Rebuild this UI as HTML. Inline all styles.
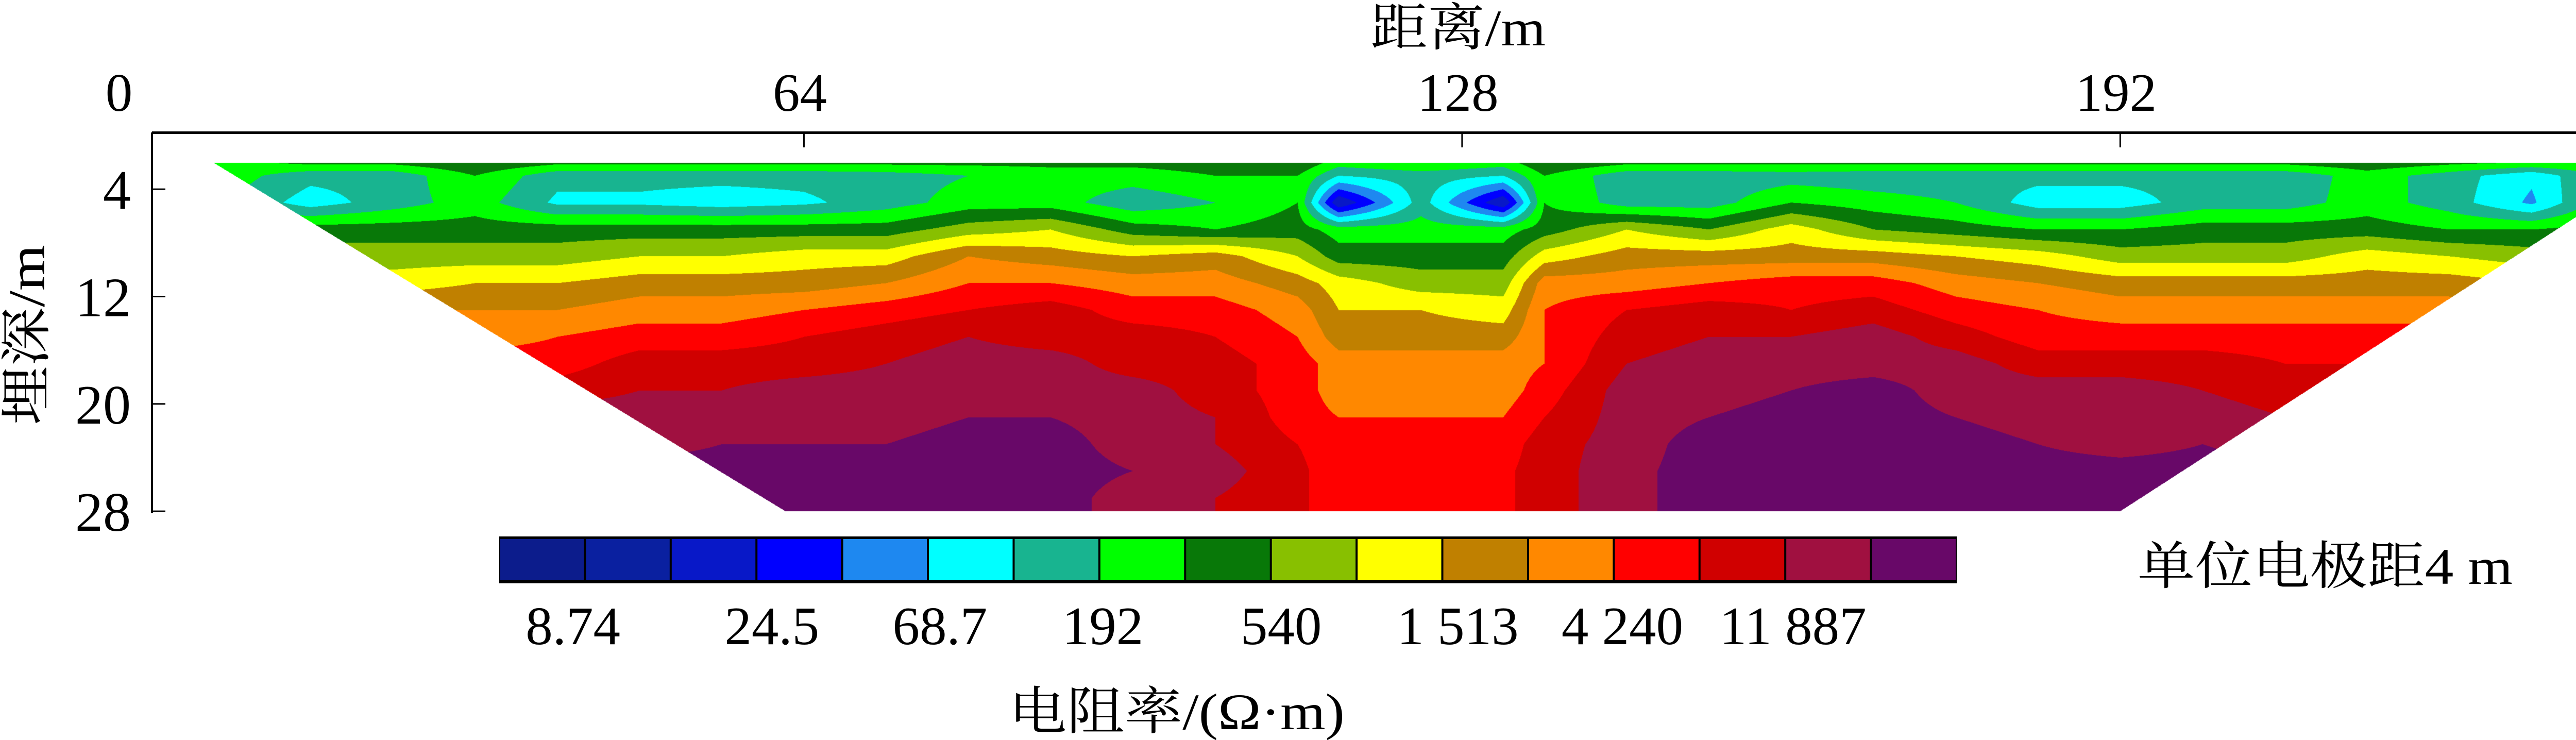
<!DOCTYPE html>
<html><head><meta charset="utf-8">
<style>
html,body{margin:0;padding:0;background:#fff;overflow:hidden;width:5287px;height:1436px;}
#wrap{position:relative;width:5287px;height:1436px;overflow:hidden;background:#fff;}
#heat{position:absolute;left:0;top:0;display:block;}
#ov{position:absolute;left:0;top:0;display:block;overflow:hidden;}
text{font-family:"Liberation Serif","Noto Serif CJK SC",serif;fill:#000;}
</style></head>
<body>
<div id="wrap">
<canvas id="heat" width="5287" height="1436"></canvas>
<svg id="ov" width="5287" height="1436" viewBox="0 0 5287 1436">
  <text x="2830" y="88" font-size="100" text-anchor="middle" textLength="340" lengthAdjust="spacingAndGlyphs">距离/m</text>
  <g id="xticks"></g>
  <g id="yticks"></g>
  <text transform="translate(52,650) rotate(-90)" font-size="100" text-anchor="middle" dominant-baseline="central" textLength="350" lengthAdjust="spacingAndGlyphs">埋深/m</text>
  <g id="cbar"></g>
  <text x="4149" y="1133" font-size="100" textLength="728" lengthAdjust="spacingAndGlyphs">单位电极距4 m</text>
  <text x="2284" y="1415" font-size="100" text-anchor="middle" textLength="652" lengthAdjust="spacingAndGlyphs">电阻率/(Ω·m)</text>
</svg>
</div>
<script>
// ---- data ----
const distances = [8,16,24,32,40,48,56,64,72,80,88,96,104,112,116,124,132,136,144,152,160,168,176,184,192,200,208,216,224,232,240,248];
const depths = [2,3,5,7,9,11,13,15,17,19,21,23,25,27];
const levelD2  = [7.2,7.8,7.8,8.5,7.8,7.8,7.8,7.8,7.8,7.8,7.8,7.8,8,8.5,7,7.5,7,8.5,7.8,7.8,7.8,7.8,7.8,7.8,7.8,7.8,7.8,8.3,7.8,7.5,7.5,9];
const levelD3  = [7,5.8,5.8,7.5,5.8,5.8,5.8,5.8,6,6.5,7,7,7.5,7.5,5.5,6,5.5,7.5,5.8,5.8,6,5.8,5.8,5.8,5.8,5.8,5.8,7,6,4.7,7,9];
const levelD5  = [6.5,5,6,7,5.3,5.3,5,5.3,6,7,7,5.8,6.5,7.5,1.5,6,1.5,7.5,6,6,7.5,7,6.5,5,5,6,6,7,6,4.3,7.5,9];
const levelD7  = [7.5,8,8,8,8,8,8,8,8,9,9.5,8,7.5,8,7,7,7,8,9.5,8.5,10,8.5,8,7.5,7.5,8,8,8,7.5,7.5,8,9];
const levelD9  = [8.5,9,9,9,9,9.5,9.5,10,10,11.5,11,10.5,11,9.5,8,8,8,10,11,11,11,11,10.5,10,9,9,9,10,9.5,9,9,9.5];
const levelD11 = [9.5,10,10,10.5,10.5,11,11,11,11.5,12.5,12.5,12,12,11,10,9,9,12,12,12.5,13,13,12,11.5,11,11,11,11,11,10.5,10,10];
const levelD13 = [10.5,11,11.5,11.5,11.5,12,12,12.5,13,13.5,14,13,13,12,10.5,10.5,10,12.5,13.5,14,13.5,14,13,12.5,12,12,12,12,12,11.5,11,11];
const levelD15 = [11.5,12,12,12,12.5,13,13,13.5,14,14.5,14,14,13.5,12.5,11,11,11,12.5,14,14.5,14.5,15,14,13,13,13,13,13,13,12.5,12,12];
const levelD17 = [12.5,13,13,13,13,14,14,14,14.5,15,15,14,14,13,12,12,12,12.5,14.5,15,15,15,15,14,14,14,13.5,13.5,13.5,13,13,13];
const levelD19 = [13,13.5,13.5,13.5,14,14.5,14.5,15,15,15,15,15,14,13,12,12,12,13,15,15,15.5,16,15,15,15,14.5,14,14,14,14,14,14];
const levelD21 = [14,14,14,14,15,15,15,15,15,15.5,15.5,15,14.5,13,12.5,12.5,12.5,13.5,15,15.5,16,16,15.5,15,15,15,14.5,14.5,14.5,14.5,14.5,14.5];
const levelD23 = [15,15,15,15,15,15,15.5,15.5,15.5,16,16,15,14.5,13.5,13,13,13,14,15,16,16,16,16,15.5,15,15.5,15,15,15,15,15,15];
const levelD25 = [15.5,15.5,15.5,15.5,15.5,16,16,16,16,16,16,15.5,15,13.7,13,13,13.3,14,15.2,16,16,16,16,16,16,16,15.5,15.5,15.5,15.5,15.5,15.5];
const levelD27 = [16,16,16,16,16,16,16,16,16,16,16,15,14.5,13.7,13,13,13.3,14,15.2,16,16,16,16,16,16,16,16,16,16,16,16,16];
const levelRows = [levelD2,levelD3,levelD5,levelD7,levelD9,levelD11,levelD13,levelD15,levelD17,levelD19,levelD21,levelD23,levelD25,levelD27];
const xTickValues = [0,64,128,192];
const yTickValues = [4,12,20,28];
const legendLabels = ["8.74","24.5","68.7","192","540","1 513","4 240","11 887"];
const legendLabelSlot = [0.86,3.18,5.14,7.04,9.12,11.18,13.1,15.09];

// ---- styles / scales ----
const palette = ["#0c1c8c","#0a20a0","#0818c8","#0000ff","#1e88f0","#00ffff","#18b490","#00ff00","#087808","#88c000","#ffff00","#c08000","#ff8800","#ff0000","#d00000","#a01040","#680868"];
const XO = 283, XK = 19.96, YO = 263, YK = 26.04;
const xScale = d => XO + XK*d;
const yScale = z => YO + YK*z;
const NS = "http://www.w3.org/2000/svg";
function mk(tag, attrs, parent){const e=document.createElementNS(NS,tag);for(const k in attrs)e.setAttribute(k,attrs[k]);parent.appendChild(e);return e;}
function hex(c){return [parseInt(c.substr(1,2),16),parseInt(c.substr(3,2),16),parseInt(c.substr(5,2),16)];}
const rgb = palette.map(hex);

// ---- heatmap ----
(function(){
  const cv=document.getElementById('heat');const ctx=cv.getContext('2d');
  const x0=Math.floor(xScale(5)), x1=Math.ceil(xScale(247)), y0=Math.floor(yScale(2)), y1=Math.ceil(yScale(28));
  const w=x1-x0, h=y1-y0;
  const img=ctx.createImageData(w,h);
  function seg(arr,v){let i=0;if(v<=arr[0])return [0,0];if(v>=arr[arr.length-1])return [arr.length-2,1];while(arr[i+1]<v)i++;return [i,(v-arr[i])/(arr[i+1]-arr[i])];}
  const colSeg=[];for(let px=0;px<w;px++){colSeg.push(seg(distances,(x0+px+0.5-XO)/XK));}
  const zTop=2.03, zBot=28, lTop=6.6, lBot=62.2, rTop=244.5, rBot=192;
  for(let py=0;py<h;py++){
    const z=(y0+py+0.5-YO)/YK;
    if(z<zTop||z>zBot)continue;
    const f=(z-zTop)/(zBot-zTop);
    const L=lTop+(lBot-lTop)*f, R=rTop-(rTop-rBot)*f;
    const [ri,rt]=seg(depths,z);
    const ra=levelRows[ri], rb=levelRows[ri+1];
    for(let px=0;px<w;px++){
      const d=(x0+px+0.5-XO)/XK;
      if(d<L||d>R)continue;
      const [ci,ct]=colSeg[px];
      const v=(ra[ci]*(1-ct)+ra[ci+1]*ct)*(1-rt)+(rb[ci]*(1-ct)+rb[ci+1]*ct)*rt;
      const lv=Math.max(0,Math.min(16,Math.round(v)));
      const c=rgb[lv];const o=(py*w+px)*4;
      img.data[o]=c[0];img.data[o+1]=c[1];img.data[o+2]=c[2];img.data[o+3]=255;
    }
  }
  ctx.putImageData(img,x0,y0);
})();

// ---- axes ----
(function(){
  const gx=document.getElementById('xticks');
  const top=mk('rect',{x:295,y:255,width:4924,height:5,fill:'#000'},gx);
  
  
  xTickValues.forEach((v,i)=>{
    const x=xScale(v);
    if(v>0){const t=mk('rect',{x:x-1.5,y:259,width:3,height:27,fill:'#000'},gx);
      
      }
    const lx = v===0 ? 231 : x-8;
    const tx=mk('text',{x:lx,y:215,'font-size':105,'text-anchor':'middle'},gx);
    tx.textContent=String(v);
    
    
  });
  const gy=document.getElementById('yticks');
  const left=mk('rect',{x:293,y:257,width:4,height:738,fill:'#000'},gy);
  
  
  yTickValues.forEach(v=>{
    const y=yScale(v);
    const t=mk('rect',{x:295,y:y-1.5,width:26,height:3,fill:'#000'},gy);
    
    
    const tx=mk('text',{x:254,y:y+38,'font-size':108,'text-anchor':'end'},gy);
    tx.textContent=String(v);
    
    
  });
})();

// ---- legend ----
(function(){
  const g=document.getElementById('cbar');
  const X0=969, X1=3798, cw=(X1-X0)/palette.length;
  const bg=mk('rect',{x:X0,y:1041,width:X1-X0,height:91,fill:'#000'},g);
  
  
  palette.forEach((c,i)=>{
    const r=mk('rect',{x:X0+i*cw+2,y:1046,width:cw-4,height:80,fill:c},g);
    
    
  });
  legendLabels.forEach((s,i)=>{
    const cx=X0+cw*legendLabelSlot[i];
    const t=mk('text',{x:cx,y:1250,'font-size':105,'text-anchor':'middle'},g);
    t.textContent=s;
    
    
  });
})();
</script>
</body></html>
